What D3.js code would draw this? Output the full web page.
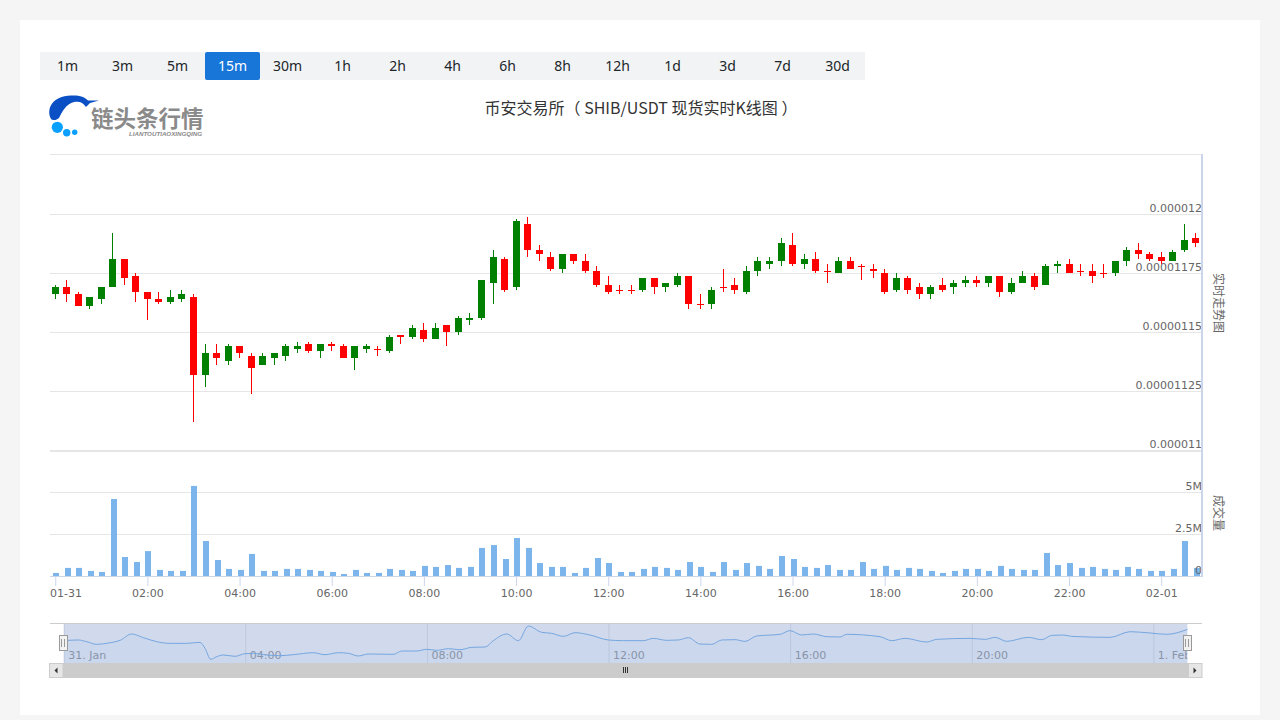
<!DOCTYPE html>
<html>
<head>
<meta charset="utf-8">
<title>SHIB/USDT</title>
<script src="https://cdn.jsdelivr.net/npm/d3@7"></script>
<style>
  html, body { margin: 0; padding: 0; background: #f5f5f5; }
  svg { display: block; }
  text { font-family: "DejaVu Sans", sans-serif; }
</style>
</head>
<body>
<svg id="chart" width="1280" height="720"></svg>
<script>
// prices are in units of 0.00000001 (SHIB tick size), volume in millions
var tabLabels = ['1m','3m','5m','15m','30m','1h','2h','4h','6h','8h','12h','1d','3d','7d','30d'];
var activeTab = '15m';
var titleText = '币安交易所（ SHIB/USDT 现货实时K线图 ）';

var opens = [1166,1169,1166,1161,1164,1169,1181,1174,1167,1164,1163,1164,1165,1132,1141,1138,1144,1140,1136,1139,
  1140,1143,1145,1142,1145,1144,1139,1143,1143,1142,1149,1148,1151,1147,1153,1150,1155,1156,1171,1181,
  1169,1196,1185,1182,1177,1183,1180,1176,1170,1168,1168,1168,1173,1169,1170,1174,1162,1162,1169,1170,
  1167,1176,1179,1180,1187,1179,1181,1176,1175,1180,1178,1177,1175,1168,1173,1169,1166,1170,1169,1171,
  1172,1171,1174,1167,1171,1174,1170,1178,1179,1176,1176,1175,1175,1180,1185,1183,1182,1180,1185,1190];
var highs = [1170,1172,1167,1165,1169,1192,1181,1175,1167,1167,1168,1168,1166,1145,1145,1145,1144,1141,1141,1141,
  1145,1146,1146,1145,1146,1145,1144,1145,1144,1149,1149,1153,1154,1154,1153,1157,1158,1172,1185,1182,
  1198,1199,1187,1184,1183,1183,1183,1178,1174,1170,1170,1173,1173,1171,1175,1174,1166,1169,1177,1173,
  1178,1182,1182,1190,1192,1183,1184,1179,1182,1182,1179,1179,1177,1175,1174,1171,1170,1173,1172,1174,
  1174,1174,1174,1173,1176,1175,1179,1180,1181,1179,1179,1179,1180,1186,1188,1184,1184,1185,1196,1192];
var lows = [1164,1163,1161,1160,1162,1169,1170,1163,1155,1162,1162,1163,1112,1127,1136,1136,1139,1124,1136,1136,
  1138,1141,1141,1139,1142,1139,1134,1141,1140,1141,1145,1147,1146,1147,1144,1149,1153,1155,1162,1167,
  1168,1182,1180,1176,1175,1179,1175,1169,1166,1166,1166,1167,1166,1167,1169,1160,1160,1160,1167,1166,
  1166,1174,1177,1178,1178,1177,1175,1171,1175,1177,1172,1173,1166,1167,1166,1164,1164,1167,1166,1169,
  1169,1169,1165,1166,1171,1168,1170,1175,1175,1174,1171,1173,1174,1178,1181,1180,1179,1180,1184,1186];
var closes = [1169,1166,1161,1165,1169,1181,1173,1167,1164,1163,1165,1166,1132,1141,1139,1144,1141,1135,1140,1141,
  1144,1144,1142,1145,1144,1139,1144,1144,1143,1148,1148,1152,1147,1152,1150,1156,1156,1172,1182,1168,
  1197,1185,1183,1177,1183,1180,1176,1170,1167,1168,1168,1173,1169,1171,1174,1162,1162,1168,1169,1168,
  1176,1180,1180,1188,1179,1181,1176,1176,1180,1177,1178,1176,1167,1173,1168,1166,1169,1168,1171,1172,
  1171,1174,1167,1171,1174,1169,1178,1179,1175,1176,1174,1175,1180,1185,1183,1181,1180,1184,1189,1188];
var volumes = [0.2,0.5,0.5,0.32,0.26,4.6,1.15,0.85,1.5,0.38,0.32,0.32,5.38,2.1,0.97,0.44,0.38,1.33,0.32,0.32,
  0.44,0.44,0.38,0.32,0.26,0.14,0.38,0.2,0.2,0.44,0.38,0.32,0.62,0.56,0.67,0.5,0.56,1.69,1.86,1.03,
  2.28,1.69,0.79,0.56,0.56,0.2,0.5,1.09,0.79,0.26,0.26,0.44,0.56,0.5,0.38,0.85,0.56,0.26,0.85,0.38,
  0.79,0.62,0.44,1.21,1.03,0.56,0.5,0.67,0.38,0.38,0.85,0.44,0.62,0.38,0.5,0.44,0.32,0.2,0.32,0.44,
  0.44,0.32,0.62,0.44,0.38,0.38,1.39,0.67,0.79,0.5,0.56,0.44,0.38,0.56,0.44,0.32,0.32,0.44,2.1,0.5];

// navigator line: position in candles, price
var navIndex = [0,1.29,2.02,2.9,3.93,4.96,5.99,7.02,8.19,9.37,10.83,12.01,12.45,12.95,13.48,14.06,15.09,15.97,16.7,17.88,
  19.06,20.23,21.99,23.02,24.2,25.08,25.96,26.84,29.04,29.78,31.1,31.98,32.86,33.89,34.92,35.94,37.12,37.85,39.03,40.06,
  40.94,42.11,42.99,44.02,45.05,46.37,47.98,49.31,51.07,51.95,53.13,54.15,55.03,56.06,57.09,57.97,59.15,60.03,61.05,63.11,
  63.99,65.02,66.05,67.22,68.39,68.98,71.92,72.95,74.12,76.03,76.92,79.85,81.18,82.06,83.08,84.99,86.16,87.05,88.07,88.81,
  92.19,93.95,95.71,97.18,99];
var navValues = [1167.5,1168.8,1165.6,1160.5,1163,1168.1,1180.2,1173.2,1165.6,1162.4,1162.4,1164.3,1152.9,1132,1137,1140.2,1137.7,1142.7,1143.4,1140.2,
  1138.9,1140.8,1144.6,1140.8,1144.6,1143.4,1138.3,1142.1,1141.5,1147.8,1147.8,1151,1149.1,1152.2,1150.3,1154.8,1155.4,1167.5,1180.2,1167.5,
  1195.4,1183.4,1181.5,1175.7,1182.7,1178.3,1168.8,1167.5,1167.5,1171.9,1168.1,1168.8,1173.2,1161.1,1160.5,1168.8,1169.4,1166.2,1176.4,1179.6,
  1186.6,1178.3,1180.2,1175.1,1174.5,1179.6,1175.1,1167.5,1171.9,1164.9,1170,1171.9,1170,1173.8,1166.2,1173.8,1169.4,1177.6,1178.3,1175.7,
  1173.8,1184.6,1182.1,1179.6,1189];

var xTickLabels = ['01-31','02:00','04:00','06:00','08:00','10:00','12:00','14:00','16:00','18:00','20:00','22:00','02-01'];
var priceTicks = [1100,1125,1150,1175,1200];
var priceTickLabels = ['0.000011','0.00001125','0.0000115','0.00001175','0.000012'];
var volumeTicks = [0,2.5,5];
var volumeTickLabels = ['0','2.5M','5M'];
var navTickLabels = ['31. Jan','04:00','08:00','12:00','16:00','20:00','1. Feb'];

var upColor = 'green', downColor = 'red', volumeColor = '#7cb5ec';
var gridColor = '#e6e6e6', axisColor = '#ccd6eb';
var plotLeft = 50, plotRight = 1202;

var svg = d3.select('#chart');
var indexes = d3.range(opens.length);

// page + white panel
svg.append('rect').attr('x', 20).attr('y', 20).attr('width', 1240).attr('height', 695).attr('fill', '#fff');

// period tabs
var tabScale = d3.scaleBand().domain(tabLabels).range([40, 865]);
svg.append('rect').attr('x', 40).attr('y', 52).attr('width', 825).attr('height', 28).attr('fill', '#f2f3f5');
var tabG = svg.append('g').selectAll('g').data(tabLabels).join('g')
    .attr('transform', d => `translate(${tabScale(d)},52)`);
tabG.filter(d => d == activeTab).append('rect')
    .attr('width', tabScale.bandwidth()).attr('height', 28).attr('rx', 2).attr('fill', '#1976d9');
tabG.append('text')
    .text(d => d)
    .attr('x', tabScale.bandwidth() / 2).attr('y', 19)
    .attr('text-anchor', 'middle')
    .style('font-family', '"Noto Sans", sans-serif').style('font-size', '14px')
    .attr('fill', d => d == activeTab ? '#fff' : '#212529');

// logo
var logo = svg.append('g');
logo.append('path')
    .attr('d', 'M51,119 C46,109 52,96 71,95.5 C79,95 85,97 88,100.5 L99,100.5 L90,103 L86,107 C83,102 79,101 74,102 C66,104 62,112 59,118 C57,120 53,121 51,119 Z')
    .attr('fill', '#0a50c4');
[[57.3,127.3,5.6],[66.7,132.8,3.7],[74.7,132.3,2.7]].forEach(function(c){
    logo.append('circle').attr('cx', c[0]).attr('cy', c[1]).attr('r', c[2]).attr('fill', '#0aa0ff');
});
logo.append('text').text('链头条行情')
    .attr('x', 91).attr('y', 127)
    .style('font-family', '"Noto Sans CJK SC"').style('font-size', '22.5px').style('font-weight', 700)
    .attr('fill', '#8a8a8a');
logo.append('text').text('LIANTOUTIAOXINGQING')
    .attr('x', 129).attr('y', 136)
    .style('font-family', '"Liberation Sans"').style('font-size', '6.2px').style('font-style', 'italic').style('font-weight', 700)
    .attr('fill', '#8a8a8a');

// title
svg.append('text').text(titleText)
    .attr('x', 641).attr('y', 114)
    .attr('text-anchor', 'middle')
    .style('font-family', '"Noto Sans CJK SC"').style('font-size', '16px')
    .attr('fill', '#333');

// scales
var xScale = d3.scaleBand().domain(indexes).range([plotLeft, plotRight]);
var priceScale = d3.scaleLinear().domain([1100, 1225]).range([450.25, 155.25]);
var volumeScale = d3.scaleLinear().domain([0, 7.5]).range([576.3, 450.3]);
var cx = i => xScale(i) + xScale.bandwidth() / 2;

// gridlines
function gridLines(ticks, scale){
    svg.append('g').selectAll('line').data(ticks).join('line')
        .attr('x1', plotLeft).attr('x2', plotRight)
        .attr('y1', d => Math.floor(scale(d)) + 0.5)
        .attr('y2', d => Math.floor(scale(d)) + 0.5)
        .attr('stroke', gridColor);
}
gridLines(priceTicks, priceScale);
gridLines(volumeTicks.slice(1), volumeScale);
// top border of the price pane, and the second row of the pane separator
[154.5, 451.5].forEach(function(y){
    svg.append('line').attr('x1', plotLeft).attr('x2', plotRight).attr('y1', y).attr('y2', y).attr('stroke', gridColor);
});

// candles
var candles = svg.append('g').selectAll('g').data(indexes).join('g')
    .attr('fill', i => closes[i] > opens[i] ? upColor : downColor)
    .attr('stroke', 'none');
candles.append('rect')
    .attr('x', i => Math.floor(cx(i) - 3.5) + 3)
    .attr('width', 1)
    .attr('y', i => Math.round(priceScale(highs[i])))
    .attr('height', i => Math.round(priceScale(lows[i])) - Math.round(priceScale(highs[i])));
candles.append('rect')
    .attr('x', i => Math.floor(cx(i) - 3.5))
    .attr('width', 7)
    .attr('y', i => Math.round(priceScale(Math.max(opens[i], closes[i]))))
    .attr('height', i => Math.max(1, Math.round(priceScale(Math.min(opens[i], closes[i]))) - Math.round(priceScale(Math.max(opens[i], closes[i])))));

// volume bars
svg.append('g').selectAll('rect').data(indexes).join('rect')
    .attr('x', i => Math.ceil(cx(i)) - 3)
    .attr('width', 6)
    .attr('y', i => volumeScale(volumes[i]))
    .attr('height', i => volumeScale(0) - volumeScale(volumes[i]))
    .attr('fill', volumeColor);

// right axis labels
function rightAxis(scale, ticks, labels){
    var g = svg.append('g')
        .attr('transform', `translate(${plotRight},0)`)
        .call(d3.axisLeft(scale).tickValues(ticks).tickSize(0).tickPadding(0)
            .tickFormat((d, i) => labels[i]));
    g.select('.domain').remove();
    g.selectAll('text')
        .attr('dy', -3)
        .style('font-family', '"DejaVu Sans", sans-serif').style('font-size', '11px')
        .attr('fill', '#666');
}
rightAxis(priceScale, priceTicks, priceTickLabels);
rightAxis(volumeScale, volumeTicks, volumeTickLabels);

// axis lines on the right
svg.append('line').attr('x1', 1202).attr('x2', 1202).attr('y1', 154).attr('y2', 577)
    .attr('stroke', axisColor).attr('stroke-width', 2);

// x axis
var xAxisG = svg.append('g')
    .attr('transform', 'translate(0,576)')
    .call(d3.axisBottom(xScale)
        .tickValues(d3.range(0, 100, 8))
        .tickSize(10).tickPadding(3)
        .tickSizeOuter(0)
        .tickFormat(i => xTickLabels[i / 8]));
xAxisG.select('.domain').attr('stroke', axisColor).attr('d', `M${plotLeft},0.5H${plotRight}`);
xAxisG.selectAll('line').attr('stroke', axisColor);
xAxisG.selectAll('text')
    .style('font-family', '"DejaVu Sans", sans-serif').style('font-size', '11px')
    .attr('fill', '#666');
xAxisG.selectAll('text').filter(i => i == 0).attr('text-anchor', 'start').attr('x', plotLeft - cx(0));

// axis titles
function axisTitle(text, y){
    svg.append('text').text(text)
        .attr('transform', `translate(1218,${y}) rotate(90)`)
        .attr('text-anchor', 'middle')
        .attr('dy', '0.35em')
        .style('font-family', '"Noto Sans CJK SC"').style('font-size', '12px')
        .attr('fill', '#666');
}
axisTitle('实时走势图', 303);
axisTitle('成交量', 513);

// navigator
var navTop = 624, navBottom = 663;
var navLeft = 63.7, navRight = 1187.4;
var navX = d3.scaleLinear().domain([0, opens.length - 1]).range([navLeft, navRight]);
var navY = d3.scaleLinear().domain([1132, 1196]).range([659.3, 625.7]);
var navG = svg.append('g');

svg.append('clipPath').attr('id', 'navClip').append('rect')
    .attr('x', navLeft).attr('y', 0).attr('width', navRight - navLeft).attr('height', navBottom - navTop);

var navAxisG = navG.append('g')
    .attr('transform', `translate(0,${navTop})`)
    .attr('clip-path', 'url(#navClip)')
    .call(d3.axisBottom(navX)
        .tickValues(d3.range(0, 100, 16))
        .tickSize(navBottom - navTop).tickPadding(0)
        .tickFormat((d, i) => navTickLabels[i]));
navAxisG.select('.domain').remove();
navAxisG.selectAll('line').attr('stroke', gridColor);
navAxisG.selectAll('text')
    .attr('text-anchor', 'start').attr('x', 4).attr('y', 35.3).attr('dy', 0)
    .style('font-family', '"DejaVu Sans", sans-serif').style('font-size', '11px')
    .attr('fill', '#999');

var navPoints = navIndex.map((d, i) => [navX(d), navY(navValues[i])]);
navG.append('path')
    .attr('d', d3.area().x(d => d[0]).y0(navBottom).y1(d => d[1]).curve(d3.curveMonotoneX)(navPoints))
    .attr('fill', volumeColor).attr('fill-opacity', 0.06);
navG.append('path')
    .attr('d', d3.line().curve(d3.curveMonotoneX)(navPoints))
    .attr('fill', 'none').attr('stroke', volumeColor).attr('stroke-width', 1);
navG.append('rect')
    .attr('x', navLeft).attr('y', navTop).attr('width', navRight - navLeft).attr('height', navBottom - navTop)
    .attr('fill', 'rgba(102,133,194,0.3)');
navG.append('line').attr('x1', plotLeft).attr('x2', plotRight).attr('y1', 623.5).attr('y2', 623.5)
    .attr('stroke', '#ccc');

// navigator handles
[63.3, 1187.6].forEach(function(hx){
    var h = navG.append('g').attr('transform', `translate(${Math.floor(hx)},635)`);
    h.append('rect').attr('x', -3.5).attr('y', 0.5).attr('width', 8).attr('height', 15)
        .attr('fill', '#f2f2f2').attr('stroke', '#999');
    [-1, 2].forEach(function(dx){
        h.append('line').attr('x1', dx - 0.5).attr('x2', dx - 0.5).attr('y1', 4).attr('y2', 12).attr('stroke', '#999');
    });
});

// scrollbar
var scrollG = svg.append('g');
scrollG.append('rect').attr('x', 49).attr('y', 663).attr('width', 1153).attr('height', 15).attr('fill', '#ccc');
[49, 1188].forEach(function(bx, k){
    scrollG.append('rect').attr('x', bx + 0.5).attr('y', 663.5).attr('width', 13.5).attr('height', 14)
        .attr('fill', '#e6e6e6').attr('stroke', '#ccc');
    var cxb = bx + 7;
    var d = k == 0 ? `M${cxb + 1.5},667.5L${cxb + 1.5},673.5L${cxb - 1.5},670.5Z` : `M${cxb - 1.5},667.5L${cxb - 1.5},673.5L${cxb + 1.5},670.5Z`;
    scrollG.append('path').attr('d', d).attr('fill', '#333');
});
[623.5, 625.5, 627.5].forEach(function(rx){
    scrollG.append('line').attr('x1', rx).attr('x2', rx).attr('y1', 667).attr('y2', 673).attr('stroke', '#333');
});
</script>
</body>
</html>
